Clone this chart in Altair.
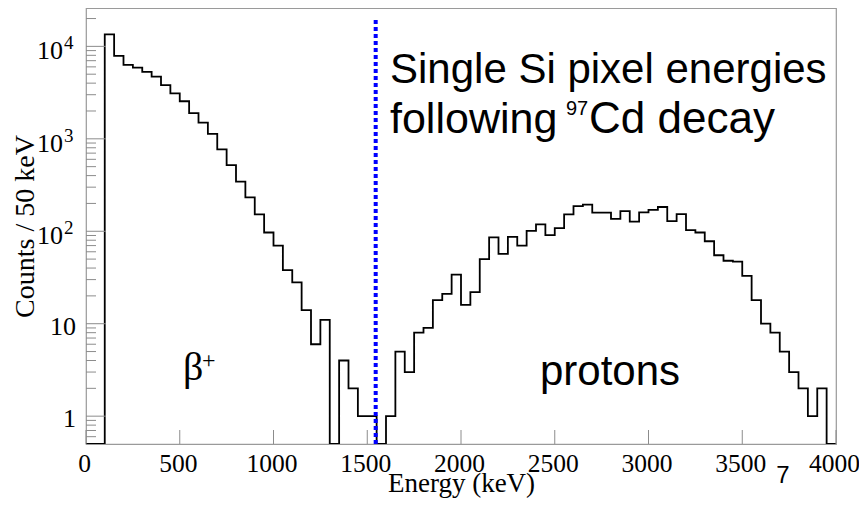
import altair as alt
import pandas as pd

# ---- data (50 keV bins, left edges 0..3950) ----
bin_left = list(range(0, 4000, 50))
counts = [
    0, 0, 13500, 7900, 6300, 5900, 5300, 4700, 3800, 3100,
    2550, 1900, 1500, 1130, 770, 520, 344, 233, 152, 97,
    70, 38, 28, 14, 6, 11, 0, 4, 2, 1,
    1, 0, 1, 5, 3, 8, 9, 18, 21, 34,
    16, 22, 50, 86, 57, 87, 70, 101, 119, 91,
    108, 152, 187, 194, 159, 159, 136, 165, 127, 160,
    170, 183, 129, 153, 103, 97, 78, 55, 48, 47,
    33, 18, 10, 8, 5, 3, 2, 1, 2, 0,
]
x_ticks = [0, 500, 1000, 1500, 2000, 2500, 3000, 3500, 4000]
y_major = [1, 10, 100, 1000, 10000]
y_major_base = ["1", "10", "10", "10", "10"]
y_major_exp = ["", "", "2", "3", "4"]
y_minor = [0.6, 0.7, 0.8, 0.9,
           2, 3, 4, 5, 6, 7, 8, 9,
           20, 30, 40, 50, 60, 70, 80, 90,
           200, 300, 400, 500, 600, 700, 800, 900,
           2000, 3000, 4000, 5000, 6000, 7000, 8000, 9000,
           20000]
cut_energy = [1545]
y_min, y_max = 0.5, 26000

hist = pd.DataFrame({
    "E": bin_left + [4000],
    "counts": counts + [counts[-1]],
})
hist["v"] = hist["counts"].clip(lower=y_min)

xscale = alt.Scale(domain=[0, 4000], nice=False, zero=False)
yscale = alt.Scale(type="log", domain=[y_min, y_max], nice=False)

W, H = 750, 436
serif = "Liberation Serif"
sans = "Liberation Sans"
tick_col = "#8c8c8c"

x_axis = alt.Axis(title="Energy (keV)", values=x_ticks, format="d", ticks=False, tickSize=0,
                  domain=False, grid=False, labelFont=serif, labelFontSize=25.5,
                  labelColor="black", labelPadding=7, labelFlush=False, labelOffset=-2,
                  titleFont=serif, titleFontSize=27, titleFontWeight="normal",
                  titleColor="black", titlePadding=-6)
y_axis = alt.Axis(title="Counts / 50 keV", labels=False, ticks=False, tickSize=0,
                  domain=False, grid=False, titleFont=serif, titleFontSize=28,
                  titleFontWeight="normal", titleColor="black", titlePadding=47)

def X(field):
    return alt.X(field, scale=xscale, axis=x_axis)

def Y(field):
    return alt.Y(field, scale=yscale, axis=y_axis)

line = alt.Chart(hist).mark_line(
    interpolate="step-after", color="black", strokeWidth=1.8, clip=True
).encode(x=X("E:Q"), y=Y("v:Q"))

xt = alt.Chart(pd.DataFrame({"E": x_ticks})).mark_rule(color=tick_col, strokeWidth=1).encode(
    x=X("E:Q"), y=alt.value(H), y2=alt.value(H - 14),
)

ymaj = alt.Chart(pd.DataFrame({"v": y_major})).mark_rule(color=tick_col, strokeWidth=1).encode(
    y=Y("v:Q"), x=alt.value(0), x2=alt.value(20),
)
ymin = alt.Chart(pd.DataFrame({"v": y_minor})).mark_rule(color=tick_col, strokeWidth=1).encode(
    y=Y("v:Q"), x=alt.value(0), x2=alt.value(10),
)

ylab_df = pd.DataFrame({"v": y_major, "base": y_major_base, "exp": y_major_exp})
ylab_plain = alt.Chart(ylab_df).transform_filter("datum.exp == ''").mark_text(
    font=serif, fontSize=26, align="right", baseline="alphabetic", dy=11, color="black"
).encode(y=Y("v:Q"), x=alt.value(-10), text="base:N")
ylab_base = alt.Chart(ylab_df).transform_filter("datum.exp != ''").mark_text(
    font=serif, fontSize=26, align="right", baseline="alphabetic", dy=13, color="black"
).encode(y=Y("v:Q"), x=alt.value(-23), text="base:N")
ylab_exp = alt.Chart(ylab_df).transform_filter("datum.exp != ''").mark_text(
    font=serif, fontSize=19, align="left", baseline="alphabetic", dy=3, color="black"
).encode(y=Y("v:Q"), x=alt.value(-22), text="exp:N")

cut = alt.Chart(pd.DataFrame({"E": cut_energy})).mark_rule(
    color="#0000ff", strokeWidth=4, strokeDash=[4, 3]
).encode(x=X("E:Q"), y=alt.value(12), y2=alt.value(H))

def label(text, x, y, size, font=sans, align="left"):
    return alt.Chart(pd.DataFrame({"t": [text]})).mark_text(
        font=font, fontSize=size, align=align, baseline="alphabetic", color="black"
    ).encode(text="t:N", x=alt.value(x), y=alt.value(y))

texts = [
    label("Single Si pixel energies", 304, 75, 42),
    label("following", 304, 125, 43),
    label("97", 480, 107, 20),
    label("Cd decay", 503, 125, 44),
    label("protons", 454, 377, 42),
    label("β", 97, 372, 40, font=serif),
    label("+", 116, 360, 24, font=serif),
    label("7", 697, 475, 24, align="center"),
]

chart = alt.layer(line, xt, ymaj, ymin, ylab_plain, ylab_base, ylab_exp, cut, *texts).properties(
    width=W, height=H,
    padding={"left": 78, "top": 0, "right": 23, "bottom": 57},
    autosize=alt.AutoSizeParams(type="none"),
).configure_view(stroke="#9a9a9a", strokeWidth=1.2)

chart.save("out.html", embed_options={"renderer": "svg", "actions": False})
